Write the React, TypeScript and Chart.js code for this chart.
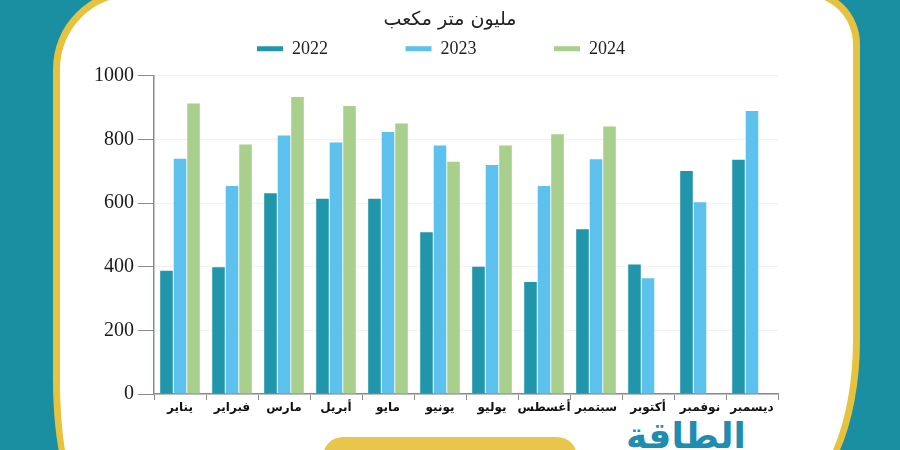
import React, { useEffect, useRef } from "react";
import { Chart, registerables } from "chart.js";

Chart.register(...registerables);

const titleText = "مليون متر مكعب";
const months = ["يناير", "فبراير", "مارس", "أبريل", "مايو", "يونيو", "يوليو", "أغسطس", "سبتمبر", "أكتوبر", "نوفمبر", "ديسمبر"];
const seriesNames = ["2022", "2023", "2024"];
const values2022 = [387, 398, 631, 614, 614, 508, 400, 352, 518, 407, 701, 736];
const values2023 = [739, 654, 812, 790, 823, 781, 720, 654, 738, 364, 603, 889];
const values2024: (number | null)[] = [913, 784, 933, 905, 850, 730, 781, 816, 841, null, null, null];
const seriesColors = ["#2196ab", "#5cc1ec", "#a8cf8c"];
const yTicks = [0, 200, 400, 600, 800, 1000];

const legendSpacer = {
  id: "legendSpacer",
  beforeLayout(chart: any) {
    const legend = chart.legend;
    if (legend && !legend._spacerPatched) {
      const orig = legend.fit;
      legend.fit = function () {
        orig.call(this);
        this.height += 8;
      };
      legend._spacerPatched = true;
    }
  },
};

export default function App() {
  const ref = useRef<HTMLCanvasElement | null>(null);

  useEffect(() => {
    if (!ref.current) return;
    const chart = new Chart(ref.current, {
      type: "bar",
      data: {
        labels: months,
        datasets: [values2022, values2023, values2024].map((d, i) => ({
          label: seriesNames[i],
          data: d,
          backgroundColor: seriesColors[i],
          borderWidth: 0,
          categoryPercentage: 0.78,
          barPercentage: 0.93,
        })),
      },
      options: {
        animation: false,
        responsive: true,
        maintainAspectRatio: false,
        layout: { padding: { left: 90, right: 90, top: 0, bottom: 26 } },
        plugins: {
          tooltip: { enabled: false },
          title: {
            display: true,
            text: titleText,
            color: "#222",
            font: { family: "DejaVu Sans", size: 19, weight: "normal" as any },
            padding: { top: 9, bottom: -2 },
          },
          legend: {
            display: true,
            position: "top",
            labels: {
              color: "#222",
              font: { family: "Liberation Serif", size: 18 },
              boxWidth: 26,
              boxHeight: 5,
              padding: 10,
              generateLabels: (c: any) => {
                const items = (Chart.defaults.plugins.legend.labels as any).generateLabels(c);
                return items.map((it: any, i: number) => ({
                  ...it,
                  text: it.text + (i < items.length - 1 ? " ".repeat(15) : " ".repeat(4)),
                }));
              },
            },
          },
        },
        scales: {
          x: {
            grid: {
              display: true,
              drawOnChartArea: false,
              drawTicks: true,
              tickLength: 6,
              tickColor: "#8a8a8a",
              offset: true,
            },
            border: { display: true, color: "#8a8a8a", width: 1.5 },
            ticks: {
              color: "#111",
              padding: 1,
              font: { family: "DejaVu Sans", size: 12, weight: "bold" as any },
              maxRotation: 0,
              autoSkip: false,
            },
            afterFit: (s: any) => {
              s.height = 30;
            },
          },
          y: {
            min: 0,
            max: 1000,
            afterBuildTicks: (s: any) => {
              s.ticks = yTicks.map((v) => ({ value: v }));
            },
            grid: {
              color: "#f1f1f1",
              tickColor: "#8a8a8a",
              tickLength: 16,
              lineWidth: 1,
            },
            border: { display: true, color: "#8a8a8a", width: 1.5 },
            ticks: {
              color: "#1a1a1a",
              padding: 4,
              font: { family: "Liberation Serif", size: 20 },
              callback: (v: any) => String(v),
            },
            afterFit: (s: any) => {
              s.width = 64;
            },
          },
          yRight: {
            position: "right",
            display: true,
            min: 0,
            max: 1000,
            grid: { display: false, drawTicks: false },
            border: { display: false },
            ticks: { display: false },
            afterFit: (s: any) => {
              s.width = 32;
            },
          },
        },
      },
      plugins: [legendSpacer],
    });
    return () => chart.destroy();
  }, []);

  return (
    <div
      style={{
        position: "fixed",
        left: 0,
        top: 0,
        width: 900,
        height: 450,
        overflow: "hidden",
        background: "#1a8fa1",
      }}
    >
      <div
        style={{
          position: "absolute",
          left: 53,
          top: -11,
          width: 807,
          height: 511,
          boxSizing: "border-box",
          border: "7px solid #e7c23e",
          borderRadius: "80px 55px 73px 30px / 80px 55px 160px 120px",
          background: "#ffffff",
        }}
      />
      <div
        style={{
          position: "absolute",
          left: 323,
          top: 437,
          width: 254,
          height: 40,
          borderRadius: 20,
          background: "#e8c64b",
        }}
      />
      <div
        style={{
          position: "absolute",
          left: 626,
          top: 416,
          fontFamily: "DejaVu Sans",
          fontWeight: "bold",
          fontSize: 36,
          color: "#1e8db0",
          direction: "rtl",
          lineHeight: "40px",
        }}
      >
        الطاقة
      </div>
      <div style={{ position: "absolute", left: 0, top: 0, width: 900, height: 450 }}>
        <canvas ref={ref} />
      </div>
    </div>
  );
}
